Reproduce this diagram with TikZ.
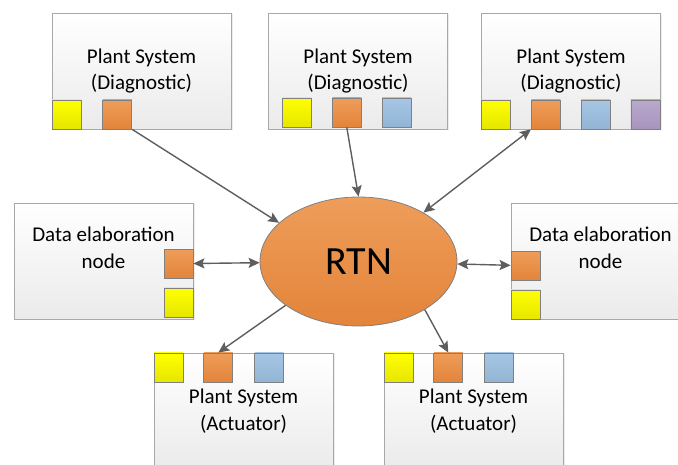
\documentclass[tikz,border=0pt]{standalone}
\usepackage{fontspec}
\setmainfont{Carlito}
\usepackage{tikz}
\usetikzlibrary{shapes.geometric, arrows.meta, positioning, shadows}
\definecolor{linkgray}{HTML}{5E5E5E}
\definecolor{boxedge}{HTML}{A8A8A8}
\definecolor{portedge}{HTML}{808080}
\definecolor{orangetop}{HTML}{EE9D5A}
\definecolor{orangebot}{HTML}{E3843A}
\definecolor{yellowtop}{HTML}{FFFF00}
\definecolor{yellowbot}{HTML}{E6E600}
\definecolor{bluetop}{HTML}{A5C6E4}
\definecolor{bluebot}{HTML}{93B5D5}
\definecolor{purpletop}{HTML}{B9A9CD}
\definecolor{purplebot}{HTML}{A794BD}
\tikzstyle{plant} = [rectangle, minimum width=179pt, minimum height=116pt, inner sep=0pt, align=center, draw=boxedge, line width=0.8pt, top color=white, bottom color=black!8, drop shadow={shadow xshift=1.5pt, shadow yshift=-1.5pt, opacity=0.15}, font=\fontsize{21}{26.5}\selectfont]
\tikzstyle{txt} = [align=center, font=\fontsize{21}{26.5}\selectfont]
\tikzstyle{port} = [rectangle, minimum size=29pt, inner sep=0pt, draw=portedge, line width=0.8pt]
\tikzstyle{yport} = [port, top color=yellowtop, bottom color=yellowbot]
\tikzstyle{oport} = [port, top color=orangetop, bottom color=orangebot]
\tikzstyle{bport} = [port, top color=bluetop, bottom color=bluebot]
\tikzstyle{pport} = [port, top color=purpletop, bottom color=purplebot]
\tikzstyle{hub} = [ellipse, minimum width=197pt, minimum height=129pt, inner sep=0pt, draw=portedge, line width=0.8pt, top color=orangetop, bottom color=orangebot, font=\fontsize{40}{48}\selectfont]
\tikzstyle{link} = [line width=1.4pt, draw=linkgray, -{Stealth[length=11pt,width=10pt,inset=2pt]}]
\tikzstyle{dlink} = [line width=1.4pt, draw=linkgray, {Stealth[length=11pt,width=10pt,inset=2pt]}-{Stealth[length=11pt,width=10pt,inset=2pt]}]

\begin{document}
\begin{tikzpicture}[x=1pt, y=-1pt]
\useasboundingbox (0,0) rectangle (678,465);
\clip (0,0) rectangle (678,465);

% Plant systems (diagnostic)
\node (diag1) [plant] at (141.5,71) {Plant System\\(Diagnostic)};
\node (diag2) [plant] at (358,71) {Plant System\\(Diagnostic)};
\node (diag3) [plant] at (571,71) {Plant System\\(Diagnostic)};

\node (d1y) [yport, anchor=south west] at (diag1.south west) {};
\node (d1o) [oport, right=21pt of d1y] {};

\node (d2y) [yport, anchor=south west] at ([xshift=14pt, yshift=2pt]diag2.south west) {};
\node (d2o) [oport, right=20pt of d2y] {};
\node (d2b) [bport, right=20pt of d2o] {};

\node (d3y) [yport, anchor=south west] at (diag3.south west) {};
\node (d3o) [oport, right=20pt of d3y] {};
\node (d3b) [bport, right=20pt of d3o] {};
\node (d3p) [pport, right=20pt of d3b] {};

% Data elaboration nodes
\node (elabL) [plant] at (103.5,261) {};
\node (elabLtxt) [txt] at ([yshift=13pt]elabL.center) {Data elaboration\\node};
\node (eLy) [yport, anchor=south east] at ([yshift=2pt]elabL.south east) {};
\node (eLo) [oport, above=9pt of eLy] {};

\node (elabR) [plant] at (600.5,261) {};
\node (elabRtxt) [txt] at ([yshift=13pt]elabR.center) {Data elaboration\\node};
\node (eRy) [yport, anchor=south west] at (elabR.south west) {};
\node (eRo) [oport, above=9pt of eRy] {};

% Plant systems (actuator)
\node (act1) [plant] at (243.5,411) {Plant System\\(Actuator)};
\node (a1y) [yport, anchor=north west] at (act1.north west) {};
\node (a1o) [oport, right=20pt of a1y] {};
\node (a1b) [bport, right=21pt of a1o] {};

\node (act2) [plant] at (473.5,411) {Plant System\\(Actuator)};
\node (a2y) [yport, anchor=north west] at (act2.north west) {};
\node (a2o) [oport, right=20pt of a2y] {};
\node (a2b) [bport, right=21pt of a2o] {};

% RTN
\node (rtn) [hub] at (358.5,261.5) {RTN};

% Connections
\draw [link] (d1o.south east) -- (rtn.154);
\draw [link] (d2o.south) -- (rtn.north);
\draw [dlink] (d3o.south west) -- (rtn.37);
\draw [dlink] (eLo) -- (rtn);
\draw [dlink] (rtn) -- (eRo);
\draw [link] (rtn.211) -- (a1o.north);
\draw [link] (rtn.-36) -- (a2o.north);

\end{tikzpicture}
\end{document}
